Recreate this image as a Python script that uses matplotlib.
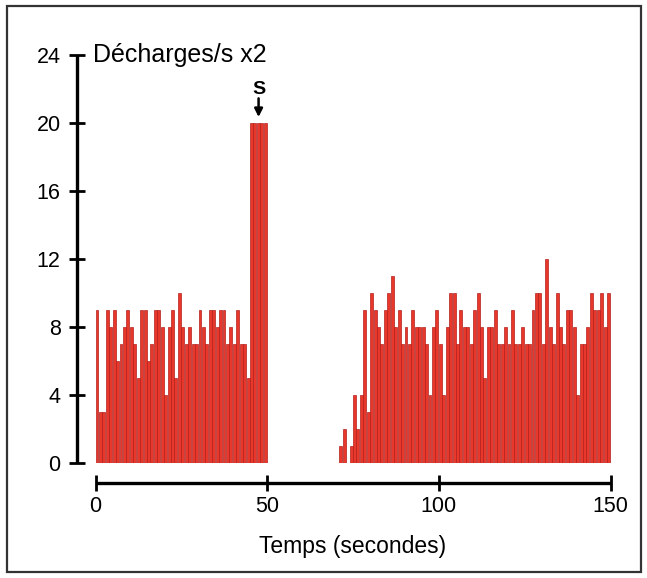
import matplotlib
matplotlib.use("Agg")
import matplotlib.pyplot as plt
from matplotlib.patches import Rectangle

# ---- data (1-second bins, discharges/s x2) ----
seg1_start = 0
seg1_values = [9, 3, 3, 9, 8, 9, 6, 7, 8, 9, 8, 7, 5, 9, 9, 6, 7, 9, 9, 8,
               4, 8, 9, 5, 10, 8, 7, 8, 7, 7, 9, 8, 7, 9, 9, 8, 9, 9, 7, 8,
               7, 9, 7, 7, 5, 20, 20, 20, 20, 20]
seg2_start = 71
seg2_values = [1, 2, 0, 1, 4, 2, 4, 9, 3, 10, 9, 8, 7, 9, 10, 11, 8, 9, 7, 8,
               7, 9, 8, 8, 8, 7, 4, 8, 9, 7, 4, 8, 10, 10, 7, 9, 8, 8, 7, 9,
               10, 8, 5, 8, 8, 9, 7, 7, 8, 7, 9, 7, 7, 8, 7, 7, 9, 10, 10, 7,
               12, 8, 7, 10, 8, 7, 9, 9, 8, 4, 7, 7, 8, 10, 9, 9, 10, 8, 10]
x_ticks = [0, 50, 100, 150]
y_ticks = [0, 4, 8, 12, 16, 20, 24]
y_label = "Décharges/s x2"
x_label = "Temps (secondes)"
stim_label = "S"

plt.rcParams['font.family'] = ['Liberation Sans', 'DejaVu Sans']

W, H = 647, 578
PT = 72 / 100  # points per pixel
fig = plt.figure(figsize=(W / 100, H / 100), dpi=100)
fig.patch.set_facecolor('white')

ax = fig.add_axes([95.5 / W, (H - 463) / H, 515 / W, 408 / H])

xs = list(range(seg1_start, seg1_start + len(seg1_values))) + \
     list(range(seg2_start, seg2_start + len(seg2_values)))
vals = seg1_values + seg2_values
ax.bar(xs, vals, width=0.86, align='edge', color='#e8372b',
       edgecolor='#b3201c', linewidth=0.5)

ax.set_xlim(0, 150)
ax.set_ylim(0, 24)
ax.set_xticks(x_ticks)
ax.set_yticks(y_ticks)

for s in ['top', 'right']:
    ax.spines[s].set_visible(False)
ax.spines['left'].set_position(('outward', 19 * PT))
ax.spines['bottom'].set_position(('outward', 20 * PT))
for s in ['left', 'bottom']:
    ax.spines[s].set_linewidth(2.4)
    ax.spines[s].set_color('black')
    ax.spines[s].set_capstyle('butt')

ax.tick_params(axis='both', direction='inout', length=11, width=2.0,
               labelsize=15.5, colors='black')
ax.tick_params(axis='y', pad=6)
ax.tick_params(axis='x', pad=3.5)

ax.set_xlabel(x_label, fontsize=16.5, labelpad=13)

ax.text(-0.7, 24, y_label, ha='left', va='center', fontsize=18)

ax.annotate('', xy=(47.5, 20.35), xytext=(47.5, 21.45),
            arrowprops=dict(arrowstyle='-|>', color='black', lw=1.8,
                            mutation_scale=12, shrinkA=0, shrinkB=0))
ax.text(47.5, 21.5, stim_label, ha='center', va='bottom', fontsize=14,
        fontweight='bold')

fig.patches.append(Rectangle((7 / W, 6 / H), (641 - 7) / W, (572 - 6) / H,
                             transform=fig.transFigure, fill=False,
                             edgecolor='#333333', linewidth=1.6))

fig.savefig('out.png', dpi=100, facecolor='white')
